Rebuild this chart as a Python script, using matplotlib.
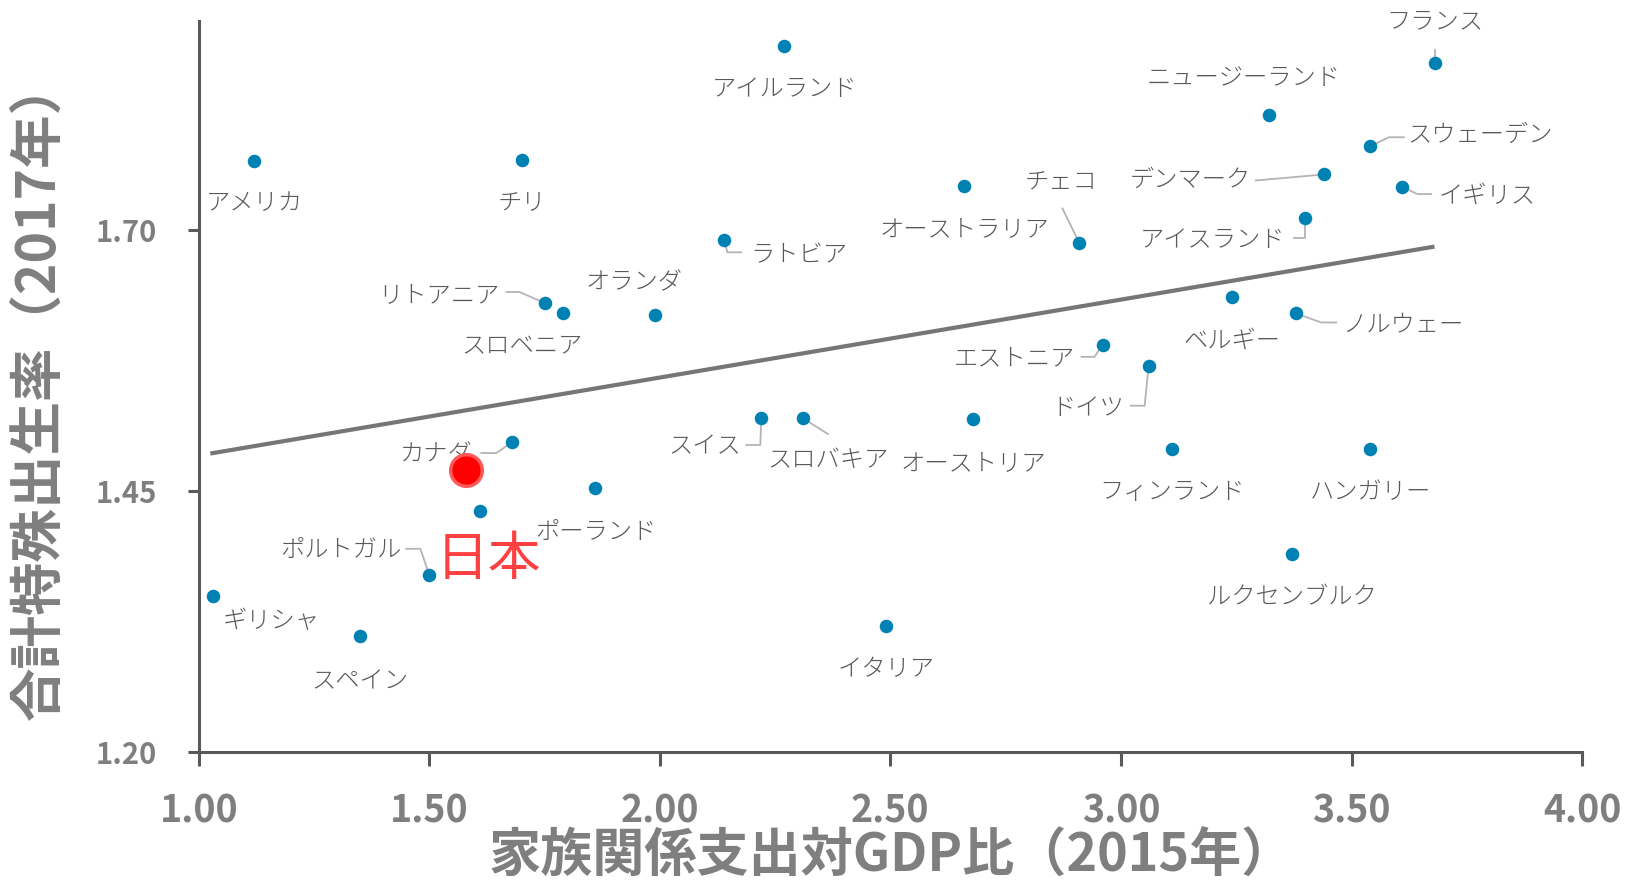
import matplotlib
matplotlib.use("Agg")
import matplotlib.pyplot as plt

plt.rcParams['font.family'] = ['Noto Sans CJK JP', 'DejaVu Sans']

# data
countries = ['アメリカ', 'チリ', 'アイルランド', 'フランス', 'ニュージーランド', 'スウェーデン',
             'デンマーク', 'イギリス', 'アイスランド', 'オーストラリア', 'チェコ', 'ラトビア',
             'オランダ', 'リトアニア', 'スロベニア', 'ベルギー', 'ノルウェー', 'エストニア',
             'ドイツ', 'スイス', 'スロバキア', 'オーストリア', 'フィンランド', 'ハンガリー',
             'カナダ', 'ポーランド', 'ポルトガル', 'ルクセンブルク', 'ギリシャ', 'スペイン',
             'イタリア', '']
spending = [1.12, 1.70, 2.27, 3.68, 3.32, 3.54,
            3.44, 3.61, 3.40, 2.66, 2.91, 2.14,
            1.99, 1.75, 1.79, 3.24, 3.38, 2.96,
            3.06, 2.22, 2.31, 2.68, 3.11, 3.54,
            1.68, 1.86, 1.50, 3.37, 1.03, 1.35,
            2.49, 1.61]
fertility = [1.766, 1.767, 1.876, 1.86, 1.81, 1.78,
             1.753, 1.741, 1.711, 1.742, 1.687, 1.69,
             1.619, 1.63, 1.62, 1.636, 1.62, 1.59,
             1.57, 1.52, 1.52, 1.519, 1.49, 1.49,
             1.497, 1.453, 1.37, 1.39, 1.35, 1.311,
             1.321, 1.431]
japan_x = 1.58
japan_y = 1.47
trend_x = [1.025, 3.68]
trend_y = [1.486, 1.684]

# label placement: text centre offset and leader vertices, in pixels from the point
label_off = {
    'アメリカ': (0, -40), 'チリ': (0, -40), 'アイルランド': (0, -41), 'フランス': (0, 44),
    'ニュージーランド': (-25, 39), 'スウェーデン': (110, 14), 'デンマーク': (-133, -3),
    'イギリス': (85, -6), 'アイスランド': (-93, -19), 'オーストラリア': (0, -41),
    'チェコ': (-18, 63), 'ラトビア': (74, -12), 'オランダ': (-21, 35),
    'リトアニア': (-106, 11), 'スロベニア': (-41, -30), 'ベルギー': (0, -41),
    'ノルウェー': (107, -8), 'エストニア': (-88, -11), 'ドイツ': (-61, -40),
    'スイス': (-57, -26), 'スロバキア': (25, -40), 'オーストリア': (0, -41),
    'フィンランド': (0, -40), 'ハンガリー': (0, -40), 'カナダ': (-76, -10),
    'ポーランド': (0, -41), 'ポルトガル': (-89, 27), 'ルクセンブルク': (0, -41),
    'ギリシャ': (59, -23), 'スペイン': (0, -42), 'イタリア': (0, -41),
}
leaders = {
    'フランス': [(0, 13), (0, 0)],
    'スウェーデン': [(34, 9), (19, 9), (0, 0)],
    'デンマーク': [(-68, -6), (0, 0)],
    'イギリス': [(29, -7), (15, -7), (0, 0)],
    'アイスランド': [(-11, -20), (0, -20), (0, 0)],
    'チェコ': [(-17, 35), (0, 0)],
    'ラトビア': [(17, -12), (3, -12), (0, 0)],
    'リトアニア': [(-38, 11), (-25, 11), (0, 0)],
    'ノルウェー': [(40, -9), (25, -9), (0, 0)],
    'エストニア': [(-21, -12), (-8, -12), (0, 0)],
    'ドイツ': [(-18, -40), (-4, -40), (0, 0)],
    'スイス': [(-15, -27), (-1, -27), (0, 0)],
    'スロバキア': [(25, -16), (0, 0)],
    'カナダ': [(-31, -11), (-16, -11), (0, 0)],
    'ポルトガル': [(-23, 26), (-9, 26), (0, 0)],
}
text_drop = -3  # the CJK glyph box sits a bit high when centred

fig = plt.figure(figsize=(16.32, 8.86), dpi=100)
ax = fig.add_axes([0.1218, 0.1507, 0.8476, 0.8258])

ax.set_xlim(1.0, 4.0)
ax.set_ylim(1.20, 1.90)
ax.set_xticks([1.0, 1.5, 2.0, 2.5, 3.0, 3.5, 4.0])
ax.set_yticks([1.20, 1.45, 1.70])
ax.set_xticklabels(['%.2f' % v for v in ax.get_xticks()])
ax.set_yticklabels(['%.2f' % v for v in ax.get_yticks()])

for s in ['top', 'right']:
    ax.spines[s].set_visible(False)
for s in ['left', 'bottom']:
    ax.spines[s].set_color('#595959')
    ax.spines[s].set_linewidth(2.2)
ax.tick_params(axis='both', colors='#595959', width=2.2, direction='out')
ax.tick_params(axis='y', length=8, pad=22, labelsize=21, labelcolor='#7f7f7f')
ax.tick_params(axis='x', length=10, pad=18, labelsize=27, labelcolor='#7f7f7f')
for t in ax.get_xticklabels() + ax.get_yticklabels():
    t.set_fontweight('bold')

ax.plot(trend_x, trend_y, color='#767676', lw=3, zorder=2, solid_capstyle='butt')

ax.scatter(spending, fertility, s=95, color='#0081b4', zorder=4, linewidths=0)


def shift(x, y, dx, dy):
    X, Y = ax.transData.transform((x, y))
    return ax.transData.inverted().transform((X + dx, Y + dy))


for name, x, y in zip(countries, spending, fertility):
    if not name:
        continue
    dx, dy = label_off[name]
    ax.annotate(name, xy=(x, y), xytext=(dx, dy + text_drop), textcoords='offset pixels',
                ha='center', va='center', fontsize=17.5, color='#595959',
                fontweight='light', zorder=5)
    if name in leaders:
        pts = [shift(x, y, a, b) for a, b in leaders[name]]
        ax.plot([p[0] for p in pts], [p[1] for p in pts], color='#b4b4b4',
                lw=1.3, zorder=3)

ax.scatter([japan_x], [japan_y], s=520, color='#ff0000', edgecolors='#ff5a5a',
           linewidths=2.5, zorder=6)
ax.annotate('日本', xy=(japan_x, japan_y), xytext=(22, -86 + text_drop),
            textcoords='offset pixels', ha='center', va='center', fontsize=38,
            color='#ff4040', zorder=6)

fig.text(0.546, 0.033, '家族関係支出対GDP比（2015年）', ha='center', va='center',
         fontsize=37.5, fontweight='bold', color='#7f7f7f')
fig.text(0.0245, 0.56, '合計特殊出生率（2017年）', ha='center', va='center',
         rotation=90, fontsize=38.5, fontweight='bold', color='#7f7f7f')

fig.savefig('out.png', dpi=100)
